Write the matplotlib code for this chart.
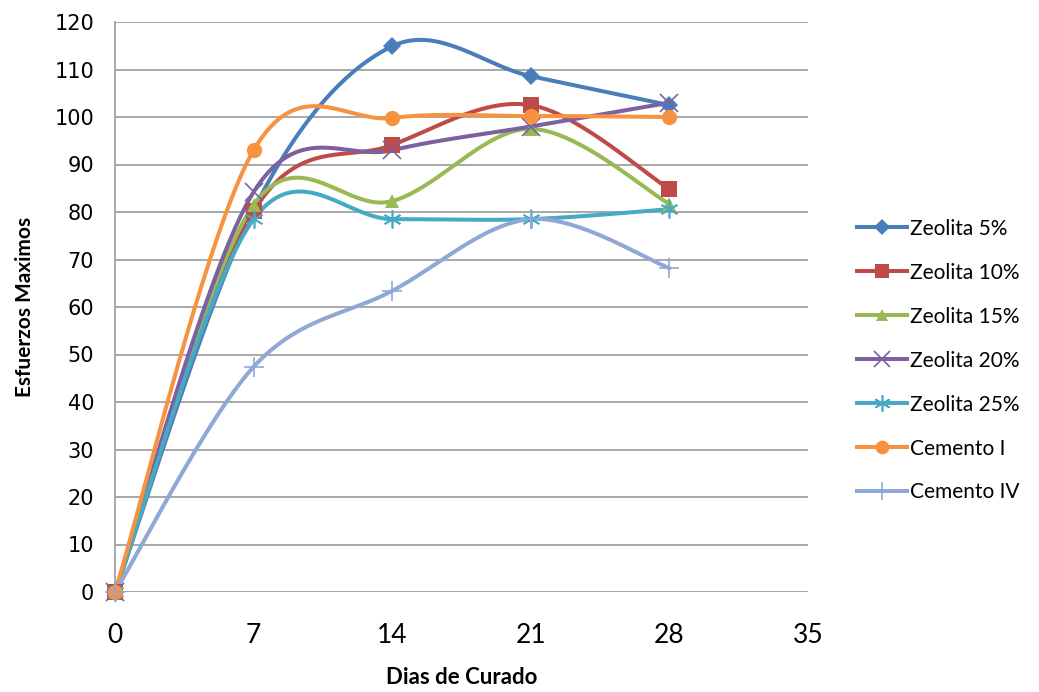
import numpy as np
import matplotlib
matplotlib.use("Agg")
import matplotlib.pyplot as plt

# dias de curado y esfuerzos maximos por mezcla
dias = [0, 7, 14, 21, 28]
zeolita_5 = [0, 80.5, 114.9, 108.6, 102.5]
zeolita_10 = [0, 80.2, 94.1, 102.5, 84.8]
zeolita_15 = [0, 81.5, 82.3, 97.5, 81.7]
zeolita_20 = [0, 84.2, 93.0, 98.0, 103.0]
zeolita_25 = [0, 78.5, 78.5, 78.5, 80.6]
cemento_1 = [0, 93.0, 99.8, 100.2, 100.0]
cemento_4 = [0, 47.4, 63.4, 78.5, 68.2]

nombres = ["Zeolita 5%", "Zeolita 10%", "Zeolita 15%", "Zeolita 20%",
           "Zeolita 25%", "Cemento I", "Cemento IV"]
series = [zeolita_5, zeolita_10, zeolita_15, zeolita_20,
          zeolita_25, cemento_1, cemento_4]
colores = ["#4A7EBB", "#BE4B48", "#98B954", "#7D60A0",
           "#46AAC5", "#F69240", "#8FA8D6"]
marcas = ["D", "s", "^", "x", (6, 2, 0), "o", "+"]
tamanos = [9, 11, 10, 13, 13, 11, 14]


def suavizar(x, y, n=40):
    # curva suavizada tipo excel (bezier con puntos de control catmull-rom)
    x = np.asarray(x, float)
    y = np.asarray(y, float)
    px = np.concatenate([[x[0]], x, [x[-1]]])
    py = np.concatenate([[y[0]], y, [y[-1]]])
    xs, ys = [], []
    t = np.linspace(0, 1, n)
    for i in range(1, len(px) - 2):
        p0 = np.array([px[i], py[i]])
        p3 = np.array([px[i + 1], py[i + 1]])
        c1 = p0 + (p3 - np.array([px[i - 1], py[i - 1]])) / 6
        c2 = p3 - (np.array([px[i + 2], py[i + 2]]) - p0) / 6
        b = ((1 - t) ** 3)[:, None] * p0 + (3 * (1 - t) ** 2 * t)[:, None] * c1 \
            + (3 * (1 - t) * t ** 2)[:, None] * c2 + (t ** 3)[:, None] * p3
        xs.append(b[:, 0])
        ys.append(b[:, 1])
    return np.concatenate(xs), np.concatenate(ys)


fig = plt.figure(figsize=(10.39, 6.92), dpi=100)
ax = fig.add_axes([115 / 1039, 100 / 692, 693 / 1039, 570 / 692])

for nombre, y, c, m, ms in zip(nombres, series, colores, marcas, tamanos):
    mew = 1.2 if m in ("x", "+") or isinstance(m, tuple) else 0
    sx, sy = suavizar(dias, y)
    ax.plot(sx, sy, color=c, lw=2.9, solid_capstyle="round", zorder=3,
            clip_on=False)
    ax.plot(dias, y, linestyle="none", marker=m, color=c, markersize=ms,
            markeredgewidth=mew, zorder=4, clip_on=False)
    ax.plot([], [], color=c, lw=2.9, marker=m, markersize=ms * 0.9,
            markeredgewidth=mew, label=nombre)

ax.set_xlim(0, 35)
ax.set_ylim(0, 120)
ax.set_xticks(range(0, 36, 7))
ax.set_yticks(range(0, 121, 10))
ax.grid(axis="y", color="#9a9a9a", lw=1.2)
ax.set_axisbelow(True)
for s in ["top", "right", "bottom"]:
    ax.spines[s].set_visible(False)
ax.spines["left"].set_color("#9a9a9a")
ax.spines["left"].set_linewidth(1.2)
ax.tick_params(length=0)
ax.tick_params(axis="y", labelsize=15, pad=15)
ax.tick_params(axis="x", pad=22)
for lab in ax.get_xticklabels():
    lab.set_fontfamily("Lato")
    lab.set_fontsize(19)
for lab in ax.get_yticklabels():
    lab.set_fontfamily("DejaVu Sans")

ax.set_xlabel("Dias de Curado", fontsize=16, fontweight="bold",
              fontfamily="Lato", labelpad=14)
ax.set_ylabel("Esfuerzos Maximos", fontsize=15, fontweight="bold",
              fontfamily="Lato", labelpad=14)

leg = fig.legend(loc="upper left", bbox_to_anchor=(838 / 1039, 1 - 200 / 692),
                 frameon=False, handlelength=2.4,
                 labelspacing=1.15, handletextpad=0.15,
                 prop={"family": "Lato", "size": 15})

fig.savefig("out.png", dpi=100)
